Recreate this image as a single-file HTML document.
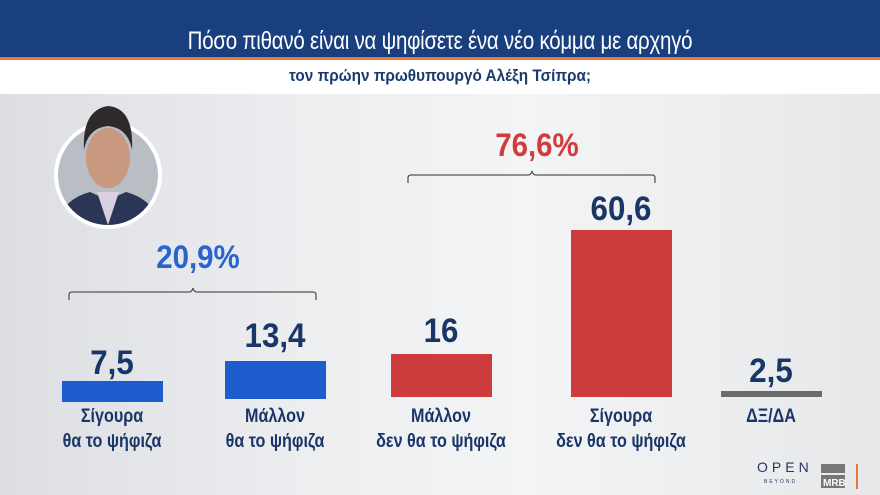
<!DOCTYPE html>
<html><head><meta charset="utf-8"><style>
*{margin:0;padding:0;box-sizing:border-box}
body{width:880px;height:495px;overflow:hidden;position:relative;font-family:"Liberation Sans","DejaVu Sans",sans-serif;background:linear-gradient(90deg,#dcdee2 0%,#eceef0 35%,#f3f4f5 60%,#e6e8ea 100%)}
.a{position:absolute}
.hdr{left:0;top:0;width:880px;height:57px;background:#1a3f7e}
.org{left:0;top:57px;width:880px;height:3px;background:#e8773a}
.wb{left:0;top:60px;width:880px;height:34px;background:#fff}
.title{left:0;top:27px;width:880px;text-align:center;color:#fff;font-size:25px;transform:scaleX(0.82);letter-spacing:-0.3px}
.sub{left:0;top:66px;width:880px;text-align:center;color:#1a3a6e;font-size:17px;font-weight:bold;transform:scaleX(0.9)}
.bar{position:absolute;width:101px}
.num{position:absolute;width:140px;text-align:center;color:#1a3568;font-weight:bold;font-size:34px;transform:scaleX(0.92)}
.lab{position:absolute;width:180px;text-align:center;color:#1a3568;font-weight:bold;font-size:19px;line-height:25px;transform:scaleX(0.85)}
.pct{position:absolute;width:160px;text-align:center;font-weight:bold;font-size:32px;transform:scaleX(0.92)}
</style></head><body>
<div class="a hdr"></div><div class="a org"></div><div class="a wb"></div>
<div class="a title">Πόσο πιθανό είναι να ψηφίσετε ένα νέο κόμμα με αρχηγό</div>
<div class="a sub">τον πρώην πρωθυπουργό Αλέξη Τσίπρα;</div>

<svg class="a" style="left:0;top:0" width="880" height="495">
<defs><clipPath id="c"><circle cx="108" cy="175" r="50"/></clipPath></defs>
<circle cx="108" cy="175" r="54" fill="#fff"/>
<g clip-path="url(#c)">
<rect x="50" y="120" width="120" height="120" fill="#b9bec4"/>
<path d="M55 230 Q60 200 90 192 L108 200 L126 192 Q156 200 162 230Z" fill="#2b3556"/>
<path d="M97 192 L108 225 L119 192Z" fill="#d8cfe0"/>
<ellipse cx="108" cy="158" rx="22" ry="30" fill="#c8987f"/>
</g>
<path d="M84 150 Q82 110 108 106 Q134 108 132 150 Q128 128 108 126 Q88 128 84 150Z" fill="#2e2a2a"/>
<path d="M69 300 v-5 q0-3 3-3 h117 q3 0 4-4 q1 4 4 4 h116 q3 0 3 3 v5" fill="none" stroke="#555" stroke-width="1.3"/>
<path d="M408 183 v-5 q0-3 3-3 h117 q3 0 4-4 q1 4 4 4 h116 q3 0 3 3 v5" fill="none" stroke="#555" stroke-width="1.3"/>
<text x="757" y="472" font-family="Liberation Sans" font-size="14" fill="#2a3560" letter-spacing="4">OPEN</text>
<text x="764" y="483" font-family="Liberation Sans" font-size="5" fill="#2a3560" letter-spacing="2">BEYOND</text>
<rect x="821" y="464" width="24" height="9" fill="#777"/>
<rect x="821" y="475" width="24" height="13" fill="#777"/>
<text x="823" y="486" font-family="Liberation Sans" font-weight="bold" font-size="10" fill="#fff">MRB</text>
<rect x="856" y="464" width="2" height="25" fill="#e8773a"/>
</svg>

<div class="pct" style="left:118px;top:239px;color:#2a62d0">20,9%</div>
<div class="pct" style="left:457px;top:127px;color:#d23b3b">76,6%</div>

<div class="bar" style="left:62px;top:381px;height:21px;background:#1d5ccc"></div>
<div class="bar" style="left:225px;top:361px;height:38px;background:#1d5ccc"></div>
<div class="bar" style="left:391px;top:354px;height:43px;background:#cd3c3c"></div>
<div class="bar" style="left:571px;top:230px;height:167px;background:#cd3c3c"></div>
<div class="bar" style="left:721px;top:391px;height:6px;background:#6b6b6b"></div>

<div class="num" style="left:42px;top:344px">7,5</div>
<div class="num" style="left:205px;top:317px">13,4</div>
<div class="num" style="left:371px;top:312px">16</div>
<div class="num" style="left:551px;top:190px">60,6</div>
<div class="num" style="left:701px;top:352px">2,5</div>

<div class="lab" style="left:22px;top:404px">Σίγουρα<br>θα το ψήφιζα</div>
<div class="lab" style="left:185px;top:404px">Μάλλον<br>θα το ψήφιζα</div>
<div class="lab" style="left:351px;top:404px">Μάλλον<br>δεν θα το ψήφιζα</div>
<div class="lab" style="left:531px;top:404px">Σίγουρα<br>δεν θα το ψήφιζα</div>
<div class="lab" style="left:681px;top:404px">ΔΞ/ΔΑ</div>
</body></html>
